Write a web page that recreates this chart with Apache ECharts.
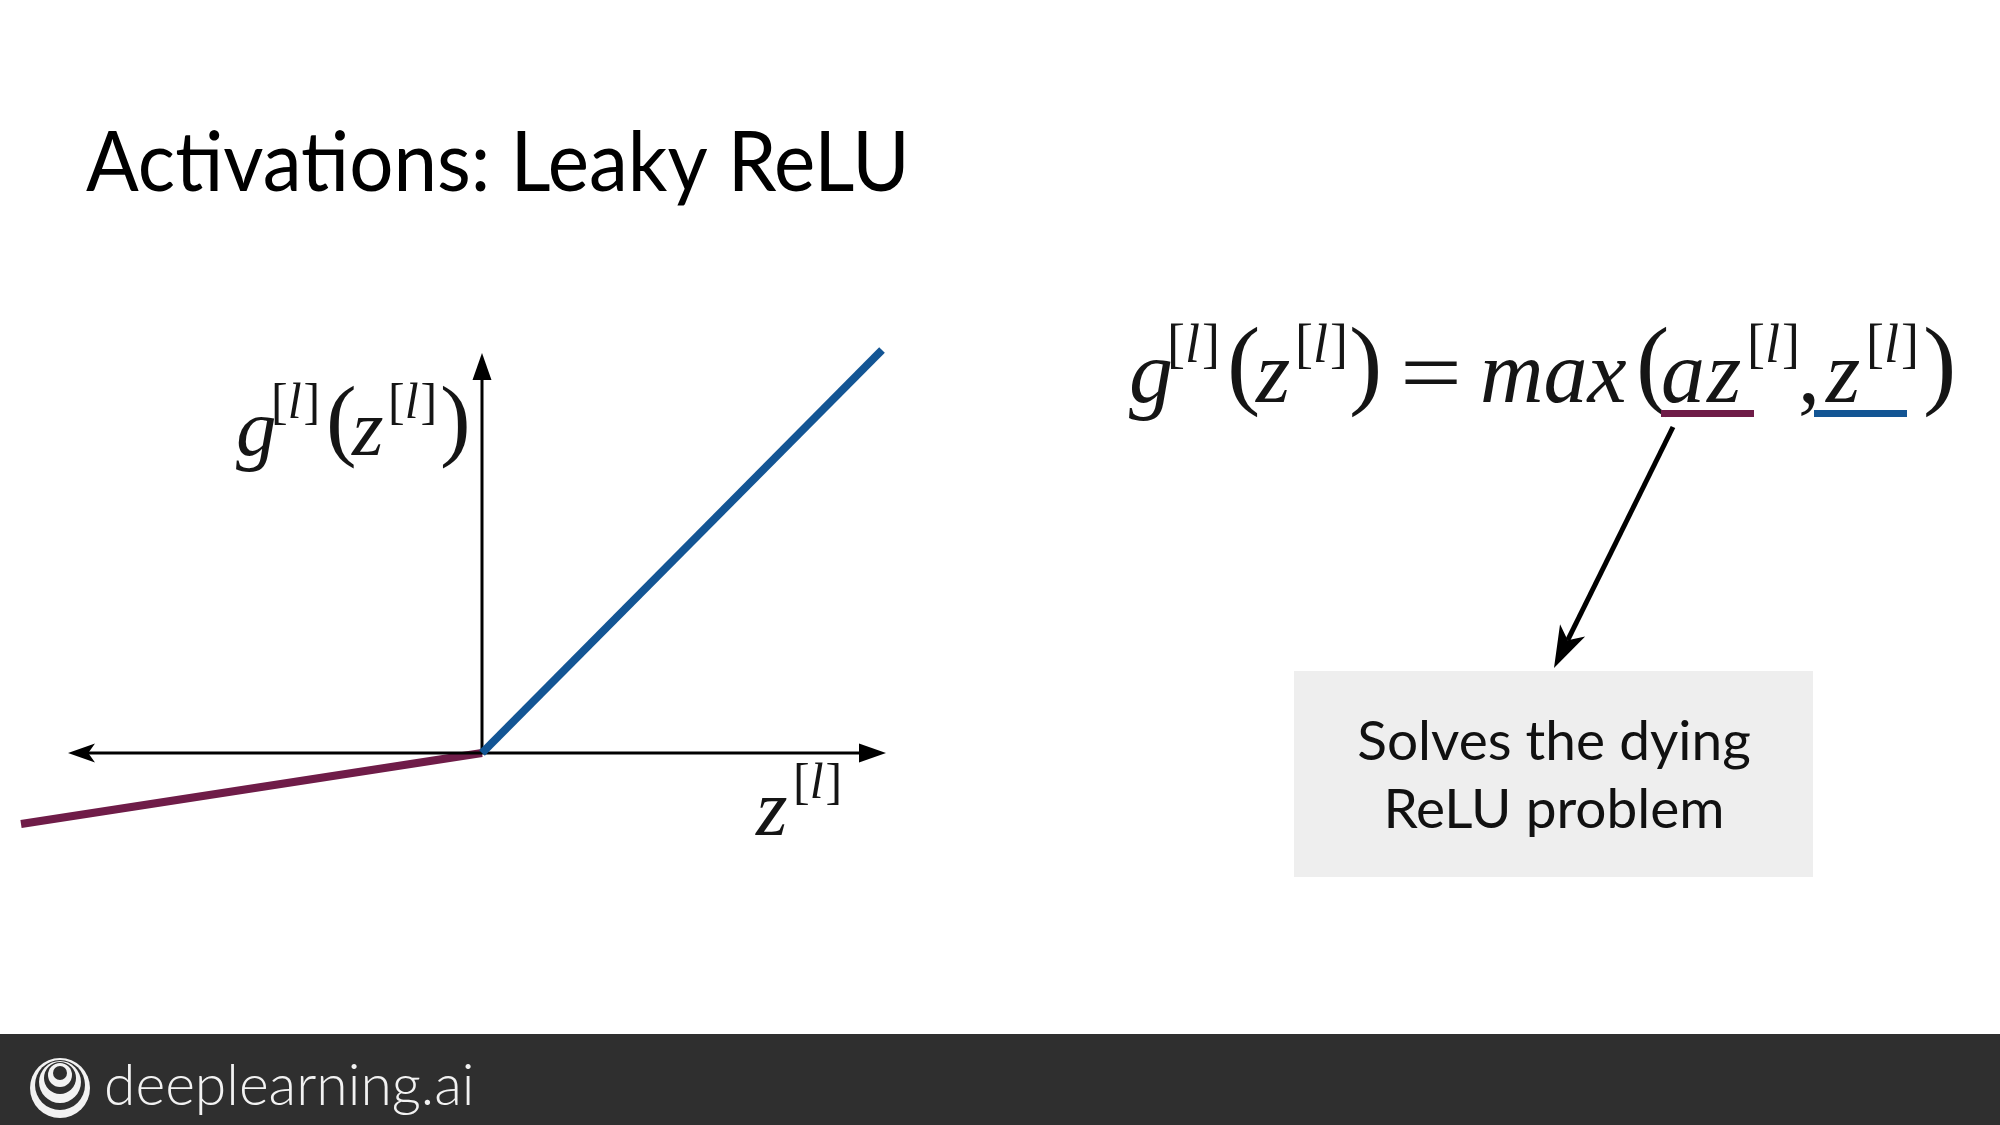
<!DOCTYPE html>
<html><head><meta charset="utf-8">
<script src="https://cdn.jsdelivr.net/npm/echarts@6/dist/echarts.min.js"></script>
<style>html,body{margin:0;padding:0;background:#fff}#c{width:2000px;height:1125px}</style>
</head><body><div id="c"></div>
<script>
// ---------- data ----------
const negativeBranch = [[-4.61, -0.71], [0, 0]];   // a*z part (purple)
const positiveBranch = [[0, 0], [4.00, 4.03]];     // z part (blue)
const horizontalAxisExtent = [-4.14, 4.04];
const verticalAxisExtent = [0, 4.00];
const titleText = 'Activations: Leaky ReLU';
const noteLines = ['Solves the dying', 'ReLU problem'];
const brandText = 'deeplearning.ai';

// ---------- styles ----------
const BLUE = '#135594', PURPLE = '#6f1c48';
const HEAD = 0.27; // arrow head length in axis units
const SERIF = '"Liberation Serif", "Times New Roman", serif';
const SANS = 'Lato, "Open Sans", sans-serif';

const cv = document.createElement('canvas').getContext('2d');
function baseOff(font) {
  cv.font = font; cv.textBaseline = 'alphabetic';
  const a1 = cv.measureText('H').actualBoundingBoxAscent;
  cv.textBaseline = 'middle';
  const a2 = cv.measureText('H').actualBoundingBoxAscent;
  return a1 - a2;
}
function textAt(text, x, baseline, font, fill, align, sx) {
  return {
    type: 'text', x: x, y: baseline - baseOff(font), scaleX: sx || 1, z: 100,
    style: { text: text, x: 0, y: 0, font: font, fill: fill || '#000',
      align: align || 'left', verticalAlign: 'middle', textAlign: align || 'left', textVerticalAlign: 'middle' }
  };
}
// math: groups of [x, kind, pieces]
function mathGroups(groups, base, scale) {
  const out = [];
  const fonts = {
    main: { I: 'italic ' + Math.round(88 * scale) + 'px ' + SERIF, U: Math.round(88 * scale) + 'px ' + SERIF, b: base },
    sup: { I: 'italic ' + Math.round(54 * scale) + 'px ' + SERIF, U: Math.round(54 * scale) + 'px ' + SERIF, b: base - 40 * scale },
    paren: { I: 'italic ' + Math.round(100 * scale) + 'px ' + SERIF, U: Math.round(100 * scale) + 'px ' + SERIF, b: base - 6 * scale }
  };
  groups.forEach(function (g) {
    let x = g[0];
    const f = fonts[g[1]];
    const sx = g[3] || 1;
    g[2].forEach(function (p) {
      const font = f[p[1]];
      out.push(textAt(p[0], x, f.b, font, '#151515', 'left', sx));
      cv.font = font;
      x += (cv.measureText(p[0]).width + (p[1] === 'I' ? 2 * scale : 0)) * sx;
    });
  });
  return out;
}
const SUPL = [['[', 'U'], ['l', 'I'], [']', 'U']];

const graphics = [];
graphics.push(textAt(titleText, 86, 191, '84px ' + SANS, '#000', 'left', 0.93));
// formula on the right
[].push.apply(graphics, mathGroups([
  [1129, 'main', [['g', 'I']]], [1167, 'sup', SUPL], [1227, 'paren', [['(', 'U']]],
  [1256, 'main', [['z', 'I']]], [1295, 'sup', SUPL], [1349, 'paren', [[')', 'U']]],
  [1400, 'main', [['=', 'U']], 1.25], [1480, 'main', [['max', 'I']]], [1636, 'paren', [['(', 'U']]],
  [1661, 'main', [['a', 'I'], ['z', 'I']]], [1747, 'sup', SUPL], [1798, 'main', [[',', 'U']]],
  [1826, 'main', [['z', 'I']]], [1866, 'sup', SUPL], [1923, 'paren', [[')', 'U']]]
], 402, 1));
// y label
[].push.apply(graphics, mathGroups([
  [236, 'main', [['g', 'I']]], [271, 'sup', SUPL], [326, 'paren', [['(', 'U']]],
  [352, 'main', [['z', 'I']]], [388, 'sup', SUPL], [440, 'paren', [[')', 'U']]]
], 455, 0.917));
// x label
[].push.apply(graphics, mathGroups([
  [756, 'main', [['z', 'I']]], [793, 'sup', SUPL]
], 835, 0.917));
// underlines
graphics.push({ type: 'rect', shape: { x: 1661, y: 410, width: 93, height: 7 }, style: { fill: PURPLE }, z: 100 });
graphics.push({ type: 'rect', shape: { x: 1814, y: 410, width: 93, height: 7 }, style: { fill: BLUE }, z: 100 });
// annotation arrow
(function () {
  const S = [1673, 427], T = [1554, 668];
  const dx = T[0] - S[0], dy = T[1] - S[1], L = Math.hypot(dx, dy);
  const u = [dx / L, dy / L], n = [-u[1], u[0]];
  const hl = 42, hw = 14, nl = 31;
  const B = [T[0] - hl * u[0], T[1] - hl * u[1]];
  const N = [T[0] - nl * u[0], T[1] - nl * u[1]];
  graphics.push({ type: 'line', shape: { x1: S[0], y1: S[1], x2: N[0], y2: N[1] }, style: { stroke: '#000', lineWidth: 5 }, z: 100 });
  graphics.push({ type: 'polygon', shape: { points: [T, [B[0] + hw * n[0], B[1] + hw * n[1]], N, [B[0] - hw * n[0], B[1] - hw * n[1]]] }, style: { fill: '#000' }, z: 100 });
})();
// note box
graphics.push({ type: 'rect', shape: { x: 1294, y: 671, width: 519, height: 206 }, style: { fill: '#eeeeee' }, z: 90 });
graphics.push(textAt(noteLines[0], 1554, 760, '55px ' + SANS, '#111', 'center'));
graphics.push(textAt(noteLines[1], 1554, 828, '55px ' + SANS, '#111', 'center'));
// footer
graphics.push({ type: 'rect', shape: { x: 0, y: 1034, width: 2000, height: 91 }, style: { fill: '#2f2f2f' }, z: 90 });
[[60, 1088, 30, '#f2f2f2'], [60, 1085, 25, '#2f2f2f'], [60, 1082, 21, '#f2f2f2'], [60, 1078, 16, '#2f2f2f'],
 [60, 1075, 12, '#f2f2f2'], [60, 1073, 7, '#2f2f2f']].forEach(function (c) {
  graphics.push({ type: 'circle', shape: { cx: c[0], cy: c[1], r: c[2] }, style: { fill: c[3] }, z: 95 });
});
graphics.push(textAt(brandText, 104, 1105, '300 57px ' + SANS, '#f2f2f2'));

// axis segments end under the arrow heads
const hAxis = [[horizontalAxisExtent[0] + HEAD / 2, 0], [horizontalAxisExtent[1] - HEAD / 2, 0]];
const vAxis = [[0, verticalAxisExtent[0]], [0, verticalAxisExtent[1] - HEAD / 2]];
const TRI = 'path://M10,0 L20,28 L0,28 Z';
const NOTCH = 'path://M10,0 L20,28 L10,21 L0,28 Z';
const heads = [
  { value: [horizontalAxisExtent[0] + HEAD / 2, 0], symbol: NOTCH, symbolRotate: 90 },
  { value: [horizontalAxisExtent[1] - HEAD / 2, 0], symbol: TRI, symbolRotate: -90 },
  { value: [0, verticalAxisExtent[1] - HEAD / 2], symbol: TRI, symbolRotate: 0 }
];

const chart = echarts.init(document.getElementById('c'), null, { renderer: 'canvas' });
chart.setOption({
  animation: false,
  backgroundColor: '#ffffff',
  grid: { left: 12, top: 333, width: 890, height: 520 },
  xAxis: { type: 'value', min: -4.7, max: 4.2, show: false },
  yAxis: { type: 'value', min: -1, max: 4.2, show: false },
  series: [
    { type: 'line', data: hAxis, symbol: 'none', lineStyle: { color: '#000', width: 3, cap: 'butt' }, z: 3 },
    { type: 'line', data: vAxis, symbol: 'none', lineStyle: { color: '#000', width: 3, cap: 'butt' }, z: 3 },
    { type: 'line', data: negativeBranch, symbol: 'none', lineStyle: { color: PURPLE, width: 8, cap: 'butt' }, z: 2 },
    { type: 'line', data: positiveBranch, symbol: 'none', lineStyle: { color: BLUE, width: 8, cap: 'butt' }, z: 4 },
    { type: 'scatter', data: heads, symbolSize: [19, 27], itemStyle: { color: '#000', opacity: 1 }, z: 5, silent: true }
  ],
  graphic: { elements: graphics }
});
</script></body></html>
